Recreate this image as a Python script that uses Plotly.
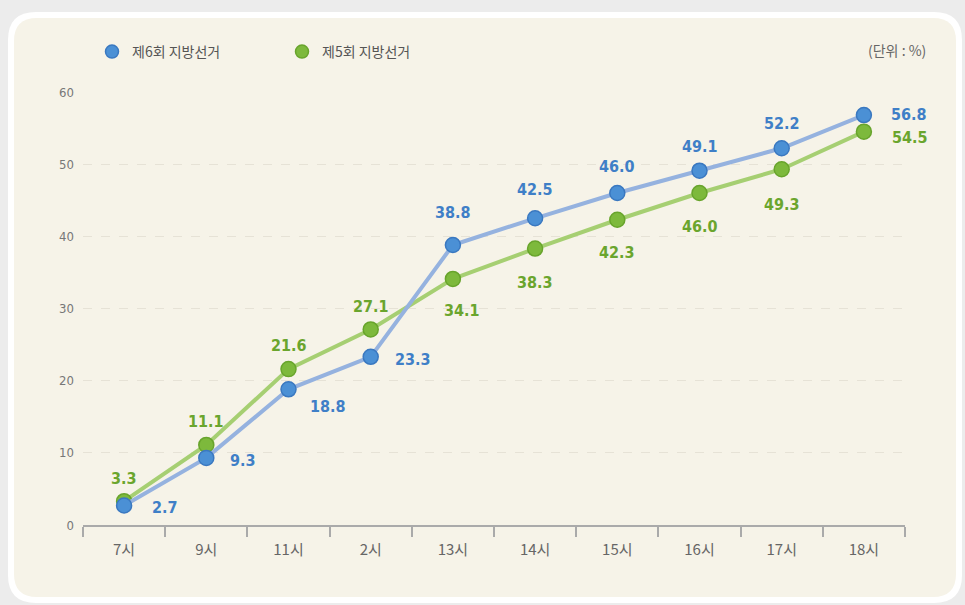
import plotly.graph_objects as go

# ---- data ----
categories = ["7시", "9시", "11시", "2시", "13시", "14시", "15시", "16시", "17시", "18시"]
election6 = [2.7, 9.3, 18.8, 23.3, 38.8, 42.5, 46.0, 49.1, 52.2, 56.8]
election5 = [3.3, 11.1, 21.6, 27.1, 34.1, 38.3, 42.3, 46.0, 49.3, 54.5]
series_names = ["제6회 지방선거", "제5회 지방선거"]
unit_label = "(단위 : %)"

# label offsets in px (xshift, yshift)
offsets6 = [(41, -2), (37, -3), (39, -17), (42, -3), (0, 32), (0, 29), (0, 27), (0, 24), (0, 25), (45, 1)]
offsets5 = [(0, 23), (0, 23), (0, 24), (0, 23), (9, -32), (0, -34), (0, -33), (0, -33), (0, -35), (46, -6)]

BLUE_LINE = "#95b2df"
BLUE_MK = "#4b90d5"
BLUE_MK_LINE = "#3a78c0"
BLUE_TXT = "#3f7fc7"
GREEN_LINE = "#a6cf72"
GREEN_MK = "#7db93c"
GREEN_MK_LINE = "#68a42c"
GREEN_TXT = "#6aa52d"

W, H = 965, 605
L, R, T, B = 83, 905, 92, 525


def px(x):
    return (x - L) / (R - L)


def py(y):
    return (B - y) / (B - T)


def rrect(x0, y0, x1, y1, r):
    pts = [
        ("M", [(x0 + r, y0)]),
        ("L", [(x1 - r, y0)]),
        ("Q", [(x1, y0), (x1, y0 + r)]),
        ("L", [(x1, y1 - r)]),
        ("Q", [(x1, y1), (x1 - r, y1)]),
        ("L", [(x0 + r, y1)]),
        ("Q", [(x0, y1), (x0, y1 - r)]),
        ("L", [(x0, y0 + r)]),
        ("Q", [(x0, y0), (x0 + r, y0)]),
    ]
    s = ""
    for cmd, ps in pts:
        s += cmd + " " + " ".join(f"{px(a):.5f},{py(b):.5f}" for a, b in ps) + " "
    return s + "Z"


NUM_FONT = "Liberation Sans Narrow, DejaVu Sans Condensed, Roboto, Arial, sans-serif"
KR_FONT = "Noto Sans CJK KR, sans-serif"

fig = go.Figure()

fig.add_trace(go.Scatter(
    x=categories, y=election5, mode="lines+markers", showlegend=False,
    line=dict(color=GREEN_LINE, width=4),
    marker=dict(size=15, color=GREEN_MK, line=dict(color=GREEN_MK_LINE, width=1.5)),
    cliponaxis=False, hoverinfo="skip",
))
fig.add_trace(go.Scatter(
    x=categories, y=election6, mode="lines+markers", showlegend=False,
    line=dict(color=BLUE_LINE, width=4),
    marker=dict(size=15, color=BLUE_MK, line=dict(color=BLUE_MK_LINE, width=1.5)),
    cliponaxis=False, hoverinfo="skip",
))

# legend-only traces
fig.add_trace(go.Scatter(x=[None], y=[None], mode="markers", name=series_names[0],
                         marker=dict(size=13, color=BLUE_MK, line=dict(color=BLUE_MK_LINE, width=1.5))))
fig.add_trace(go.Scatter(x=[None], y=[None], mode="markers", name=series_names[1],
                         marker=dict(size=13, color=GREEN_MK, line=dict(color=GREEN_MK_LINE, width=1.5))))

annotations = []
for vals, offs, col in ((election6, offsets6, BLUE_TXT), (election5, offsets5, GREEN_TXT)):
    for c, v, (dx, dy) in zip(categories, vals, offs):
        annotations.append(dict(
            x=c, y=v, xref="x", yref="y", text=f"{v:.1f}", showarrow=False,
            xshift=dx, yshift=dy,
            font=dict(family=NUM_FONT, size=16, color=col, weight="bold"),
        ))
annotations.append(dict(
    x=px(928), y=py(50), xref="paper", yref="paper", text=unit_label, showarrow=False,
    xanchor="right", yanchor="middle", font=dict(family=KR_FONT, size=14, color="#666"),
))

shapes = [
    dict(type="path", xref="paper", yref="paper", path=rrect(8, 12, 962, 603, 28),
         fillcolor="#ffffff", line=dict(width=0), layer="below"),
    dict(type="path", xref="paper", yref="paper", path=rrect(14, 18, 956, 597, 23),
         fillcolor="#f6f3e8", line=dict(width=0), layer="below"),
]

fig.update_layout(
    width=W, height=H,
    margin=dict(l=L, r=W - R, t=T, b=H - B, pad=0),
    paper_bgcolor="#ececec",
    plot_bgcolor="rgba(0,0,0,0)",
    shapes=shapes,
    annotations=annotations,
    showlegend=True,
    hovermode=False,
    legend=dict(
        orientation="h", x=px(92), y=py(36), xanchor="left", yanchor="top",
        bgcolor="rgba(0,0,0,0)", font=dict(family=KR_FONT, size=14, color="#555"),
        entrywidth=145, entrywidthmode="pixels", itemwidth=30,
    ),
    xaxis=dict(
        type="category", range=[-0.5, 9.5], tickson="boundaries", ticks="outside",
        ticklen=10, tickcolor="#aaaaaa", tickwidth=1.5, showline=True, linecolor="#aaaaaa",
        linewidth=1.5, showgrid=False, zeroline=False,
        tickfont=dict(family=KR_FONT, size=15, color="#666"),
        ticklabelstandoff=10,
    ),
    yaxis=dict(
        range=[0, 60], dtick=10, showline=False, zeroline=False, ticks="",
        showgrid=True, gridcolor="#e6e2d6", griddash="dash", gridwidth=1,
        tickfont=dict(family=NUM_FONT, size=13, color="#777"),
        ticklabelstandoff=8,
    ),
    font=dict(family=KR_FONT),
)

fig.write_html("out.html", config={"displayModeBar": False},
               post_script="document.body.style.margin='0';")
